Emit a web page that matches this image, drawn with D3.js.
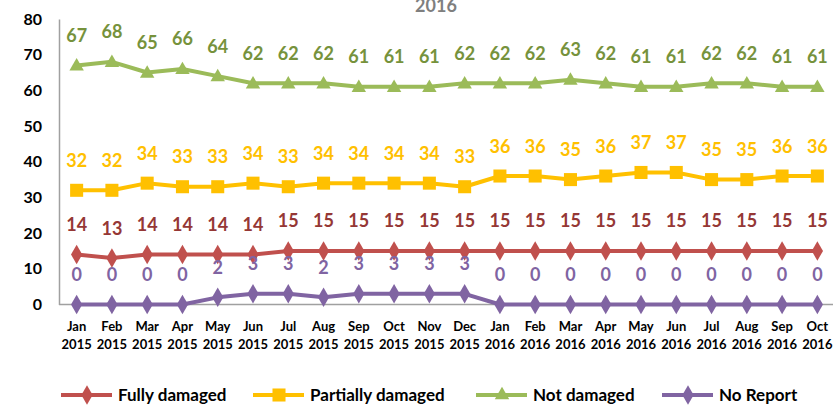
<!DOCTYPE html>
<html>
<head>
<meta charset="utf-8">
<script src="https://cdn.jsdelivr.net/npm/d3@7"></script>
<style>
    body { margin: 0; background: #fff; }
    svg { display: block; font-family: Lato, "Open Sans", sans-serif; font-weight: bold; }
</style>
</head>
<body>
<main></main>
<script>
// Months on the x axis, two lines each
const months = ["Jan", "Feb", "Mar", "Apr", "May", "Jun", "Jul", "Aug", "Sep", "Oct", "Nov", "Dec",
                "Jan", "Feb", "Mar", "Apr", "May", "Jun", "Jul", "Aug", "Sep", "Oct"];
const years = ["2015", "2015", "2015", "2015", "2015", "2015", "2015", "2015", "2015", "2015", "2015", "2015",
               "2016", "2016", "2016", "2016", "2016", "2016", "2016", "2016", "2016", "2016"];

const fully_damaged = [14, 13, 14, 14, 14, 14, 15, 15, 15, 15, 15, 15, 15, 15, 15, 15, 15, 15, 15, 15, 15, 15];
const partially_damaged = [32, 32, 34, 33, 33, 34, 33, 34, 34, 34, 34, 33, 36, 36, 35, 36, 37, 37, 35, 35, 36, 36];
const not_damaged = [67, 68, 65, 66, 64, 62, 62, 62, 61, 61, 61, 62, 62, 62, 63, 62, 61, 61, 62, 62, 61, 61];
const no_report = [0, 0, 0, 0, 2, 3, 3, 2, 3, 3, 3, 3, 0, 0, 0, 0, 0, 0, 0, 0, 0, 0];

const y_ticks = [0, 10, 20, 30, 40, 50, 60, 70, 80];
const title_text = "2016";

var series = [
    {name: "Fully damaged", values: fully_damaged, line: "#C0504D", label: "#953735", symbol: d3.symbolDiamond},
    {name: "Partially damaged", values: partially_damaged, line: "#FFC000", label: "#FFC000", symbol: d3.symbolSquare},
    {name: "Not damaged", values: not_damaged, line: "#9BBB59", label: "#76923C", symbol: d3.symbolTriangle},
    {name: "No Report", values: no_report, line: "#8064A2", label: "#8064A2", symbol: d3.symbolDiamond}
];

var width = 833, height = 406;
var svg = d3.select("main").append("svg")
            .attr("width", width)
            .attr("height", height);

var x_scale = d3.scalePoint()
                .domain(d3.range(months.length))
                .range([59, 835])
                .padding(0.5);
var y_scale = d3.scaleLinear()
                .domain([0, 80])
                .range([304.5, 19]);

// Title, cut at the top like in the picture
svg.append("text")
    .attr("x", 436)
    .attr("y", 12)
    .attr("text-anchor", "middle")
    .attr("fill", "#7F7F7F")
    .attr("font-size", 18)
    .text(title_text);

// Axes
var y_axis = svg.append("g")
                .attr("transform", "translate(59,0)")
                .call(d3.axisLeft(y_scale).tickValues(y_ticks).tickSize(0).tickPadding(17));
y_axis.select(".domain").attr("stroke", "#A0A0A0").attr("stroke-width", 1.5);
y_axis.selectAll("text")
    .attr("font-size", 16)
    .attr("font-family", "Lato")
    .attr("font-weight", "bold")
    .attr("fill", "#000");

var x_axis = svg.append("g")
                .attr("transform", "translate(0," + y_scale(0) + ")");
x_axis.append("line")
    .attr("x1", 59).attr("x2", width)
    .attr("stroke", "#A0A0A0").attr("stroke-width", 1.5);
var x_labels = x_axis.selectAll("text")
    .data(d3.range(months.length))
    .enter()
    .append("text")
    .attr("text-anchor", "middle")
    .attr("font-size", 13)
    .attr("fill", "#000")
    .attr("x", function(i) { return x_scale(i); });
x_labels.append("tspan")
    .attr("x", function(i) { return x_scale(i); })
    .attr("y", 26)
    .text(function(i) { return months[i]; });
x_labels.append("tspan")
    .attr("x", function(i) { return x_scale(i); })
    .attr("y", 44)
    .text(function(i) { return years[i]; });

var line = d3.line()
            .x(function(d, i) { return x_scale(i); })
            .y(function(d) { return y_scale(d); });

var groups = svg.selectAll(".series")
    .data(series)
    .enter()
    .append("g")
    .attr("class", "series");

groups.append("path")
    .attr("d", function(s) { return line(s.values); })
    .attr("fill", "none")
    .attr("stroke", function(s) { return s.line; })
    .attr("stroke-width", 4)
    .attr("stroke-linejoin", "round");

groups.each(function(s) {
    var g = d3.select(this);
    var sym = d3.symbol().type(s.symbol).size(s.symbol === d3.symbolTriangle ? 90 : (s.symbol === d3.symbolSquare ? 170 : 110));
    g.selectAll("path.marker")
        .data(s.values)
        .enter()
        .append("path")
        .attr("class", "marker")
        .attr("d", sym)
        .attr("fill", s.line)
        .attr("transform", function(d, i) {
            var dy = s.symbol === d3.symbolTriangle ? 1 : 0;
            return "translate(" + x_scale(i) + "," + (y_scale(d) + dy) + ")";
        });
    g.selectAll("text")
        .data(s.values)
        .enter()
        .append("text")
        .attr("x", function(d, i) { return x_scale(i); })
        .attr("y", function(d) { return y_scale(d) - 30; })
        .attr("dy", "0.36em")
        .attr("text-anchor", "middle")
        .attr("font-size", 18)
        .attr("fill", s.label)
        .text(function(d) { return d; });
});

// Legend
var legend_x = [61, 253, 476, 662];
var legend = svg.selectAll(".legend")
    .data(series)
    .enter()
    .append("g")
    .attr("class", "legend")
    .attr("transform", function(s, i) { return "translate(" + legend_x[i] + ",395)"; });
legend.append("line")
    .attr("x1", 0).attr("x2", 51)
    .attr("stroke", function(s) { return s.line; })
    .attr("stroke-width", 4);
legend.append("path")
    .attr("d", function(s) {
        return d3.symbol().type(s.symbol).size(s.symbol === d3.symbolTriangle ? 90 : (s.symbol === d3.symbolSquare ? 170 : 110))();
    })
    .attr("transform", "translate(26,0)")
    .attr("fill", function(s) { return s.line; });
legend.append("text")
    .attr("x", 57)
    .attr("dy", "0.36em")
    .attr("font-size", 17)
    .attr("fill", "#000")
    .text(function(s) { return s.name; });
</script>
</body>
</html>
